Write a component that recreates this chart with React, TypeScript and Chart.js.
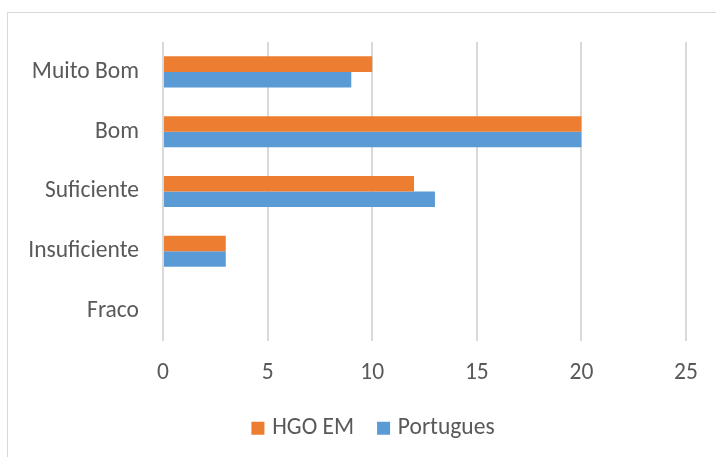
import React, { useEffect, useRef } from "react";
import { Chart, registerables } from "chart.js";

Chart.register(...registerables);

const categories = ["Muito Bom", "Bom", "Suficiente", "Insuficiente", "Fraco"];
const hgoValues = [10, 20, 12, 3, 0];
const portValues = [9, 20, 13, 3, 0];
const seriesNames = ["HGO EM", "Portugues"];
const xMin = 0;
const xMax = 25;
const xStep = 5;

const FONT = "Carlito, Calibri, 'Open Sans', sans-serif";
const FS = 23.5;
const TEXT = "#595959";
const GRID = "#d9d9d9";

const legendShift = {
  id: "legendShift",
  afterLayout(chart: any) {
    if (chart.legend) chart.legend.left = 64;
  },
};

export default function App() {
  const ref = useRef<HTMLCanvasElement | null>(null);
  useEffect(() => {
    document.body.style.margin = "0";
    const chart = new Chart(ref.current!, {
      type: "bar",
      data: {
        labels: categories,
        datasets: [
          { label: seriesNames[0], data: hgoValues, backgroundColor: "#ED7D31", categoryPercentage: 0.52, barPercentage: 1 },
          { label: seriesNames[1], data: portValues, backgroundColor: "#5B9BD5", categoryPercentage: 0.52, barPercentage: 1 },
        ],
      },
      plugins: [legendShift],
      options: {
        indexAxis: "y",
        animation: false,
        responsive: false,
        maintainAspectRatio: false,
        layout: { padding: { left: 20, right: 30, top: 42, bottom: 7 } },
        plugins: {
          tooltip: { enabled: false },
          legend: {
            position: "bottom",
            labels: {
              usePointStyle: true,
              pointStyle: "rect",
              boxWidth: 5,
              boxHeight: 13,
              padding: 27,
              color: TEXT,
              font: { family: FONT, size: FS },
            },
          },
        },
        scales: {
          x: {
            min: xMin,
            max: xMax,
            ticks: { stepSize: xStep, color: TEXT, padding: 18, font: { family: FONT, size: FS } },
            grid: { color: GRID, lineWidth: 2, drawTicks: false },
            border: { display: false },
            afterFit: (s: any) => { s.height = 48.5; },
          },
          y: {
            ticks: { color: TEXT, padding: 24, font: { family: FONT, size: FS } },
            grid: { display: false, drawTicks: false },
            border: { display: false },
            afterFit: (s: any) => { s.width = 143; },
          },
        },
      },
    });
    return () => chart.destroy();
  }, []);
  return (
    <div style={{ position: "relative", width: 716, height: 457, overflow: "hidden", background: "#fff" }}>
      <canvas ref={ref} width={716} height={457} style={{ position: "absolute", left: 0, top: 0 }} />
      <div style={{ position: "absolute", left: 7, top: 12, width: 800, height: 600, border: "1.5px solid #d9d9d9", pointerEvents: "none" }} />
    </div>
  );
}
